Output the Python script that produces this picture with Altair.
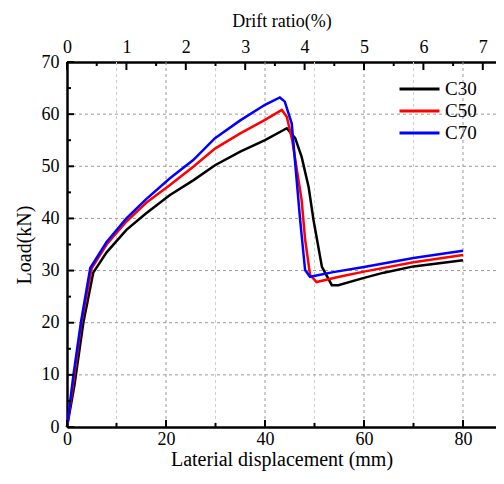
import altair as alt
import pandas as pd

# ---------------- data ----------------
series = ["C30", "C50", "C70"]
colors = ["#000000", "#ff0000", "#0000ff"]

c30_x = [0, 1.5, 3.3, 5.3, 8, 12, 16, 20.8, 25.5, 29.9, 35, 40, 44.4, 46.1, 47.4, 48.8, 49.8, 51.5, 53.5, 54.8, 60, 64, 70, 80]
c30_y = [0, 8, 20, 29.6, 33.5, 37.8, 41.0, 44.5, 47.3, 50.2, 52.8, 55.0, 57.3, 55.4, 51.8, 46.1, 39.7, 30.7, 27.2, 27.2, 28.6, 29.6, 30.8, 32.0]

c50_x = [0, 1.2, 2.9, 5.0, 8, 12, 16, 20.8, 25.5, 29.9, 35, 40, 43.4, 44.4, 45.5, 47.4, 48.1, 49.1, 50.4, 55, 60, 70, 80]
c50_y = [0, 8, 20, 30.5, 35.0, 39.4, 43.0, 46.4, 49.9, 53.4, 56.3, 58.9, 60.8, 59.5, 55.0, 43.5, 36.0, 29.2, 27.8, 28.8, 29.8, 31.6, 33.0]

c70_x = [0, 1.3, 2.8, 4.7, 8, 12, 16, 20.8, 25.5, 29.9, 35, 40, 43.0, 44.0, 45.4, 47.1, 48.1, 49.1, 53.8, 60, 70, 80]
c70_y = [0, 10, 20, 30.5, 35.5, 40.0, 43.7, 47.7, 51.2, 55.4, 58.8, 61.8, 63.2, 62.4, 58.2, 39.7, 30.1, 28.8, 29.7, 30.7, 32.4, 33.8]

x_major = [0, 20, 40, 60, 80]
x_minor = [10, 30, 50, 70]
y_major = [0, 10, 20, 30, 40, 50, 60, 70]
y_minor = [5, 15, 25, 35, 45, 55, 65]
y_grid = [10, 20, 30, 40, 50, 60]
drift_major = [0, 1, 2, 3, 4, 5, 6, 7]
drift_minor = [0.5, 1.5, 2.5, 3.5, 4.5, 5.5, 6.5]

# ---------------- layout ----------------
PX_PER_MM = 4.95
W, H = 429, 365
XMAX = W / PX_PER_MM
DMAX = XMAX / 12.0
FONT = "Liberation Serif"

rows = []
for name, xs_, ys_ in zip(series, [c30_x, c50_x, c70_x], [c30_y, c50_y, c70_y]):
    for i, (a, b) in enumerate(zip(xs_, ys_)):
        rows.append({"s": name, "x": a, "y": b, "i": i})
df = pd.DataFrame(rows)

xs = alt.Scale(domain=[0, XMAX], nice=False, zero=False)
ys = alt.Scale(domain=[0, 70], nice=False, zero=False)
ds = alt.Scale(domain=[0, DMAX], nice=False, zero=False)

def ax(**kw):
    base = dict(grid=False, ticks=False, domain=True, domainWidth=2.5, domainColor="black",
                labelFont=FONT, titleFont=FONT, labelColor="black", titleColor="black",
                titleFontWeight="normal", labelFontSize=18, labelOverlap=False, labelFlush=False)
    base.update(kw)
    return alt.Axis(**base)

# identical axis definitions reused on every layer that shares the scale
X_AX = ax(orient="bottom", values=x_major, title="Laterial displacement (mm)",
          labelPadding=3, titlePadding=1, titleFontSize=20)
Y_AX = ax(orient="left", values=y_major, title="Load(kN)",
          labelPadding=8, titlePadding=7, titleFontSize=20)
T_AX = ax(orient="top", values=drift_major, title="Drift ratio(%)",
          labelPadding=6, titlePadding=8, titleFontSize=18)

def X(f):
    return alt.X(f, scale=xs, axis=X_AX, title="Laterial displacement (mm)")

def Y(f):
    return alt.Y(f, scale=ys, axis=Y_AX, title="Load(kN)")

def D(f):
    return alt.X(f, scale=ds, axis=T_AX, title="Drift ratio(%)")

grid_major = alt.Chart(pd.DataFrame({"x": x_major[1:]})).mark_rule(
    color="#9a9a9a", strokeDash=[3, 3], strokeWidth=1
).encode(x=X("x:Q"))

grid_minor = alt.Chart(pd.DataFrame({"x": x_minor})).mark_rule(
    color="#cfcfcf", strokeDash=[3, 3], strokeWidth=1
).encode(x=X("x:Q"))

grid_h = alt.Chart(pd.DataFrame({"y": y_grid})).mark_rule(
    color="#9a9a9a", strokeDash=[3, 3], strokeWidth=1
).encode(y=Y("y:Q"))

lines = alt.Chart(df).mark_line(strokeWidth=2.5).encode(
    x=X("x:Q"),
    y=Y("y:Q"),
    color=alt.Color("s:N", scale=alt.Scale(domain=series, range=colors), legend=alt.Legend(
        orient="none", legendX=331, legendY=16, title=None, symbolType="stroke",
        symbolSize=1600, symbolStrokeWidth=3, labelFont=FONT, labelFontSize=19,
        labelColor="black", clipHeight=22, rowPadding=0, labelOffset=4, padding=0)),
    order=alt.Order("i:Q"),
)

bt_major = alt.Chart(pd.DataFrame({"x": x_major})).mark_rule(color="black", strokeWidth=2).encode(
    x=X("x:Q"), y=alt.value(H), y2=alt.value(H - 7))
bt_minor = alt.Chart(pd.DataFrame({"x": x_minor})).mark_rule(color="black", strokeWidth=2).encode(
    x=X("x:Q"), y=alt.value(H), y2=alt.value(H - 4))
lt_major = alt.Chart(pd.DataFrame({"y": y_major})).mark_rule(color="black", strokeWidth=2).encode(
    y=Y("y:Q"), x=alt.value(0), x2=alt.value(7))
lt_minor = alt.Chart(pd.DataFrame({"y": y_minor})).mark_rule(color="black", strokeWidth=2).encode(
    y=Y("y:Q"), x=alt.value(0), x2=alt.value(4))

inner = alt.layer(grid_minor, grid_major, grid_h, lines, bt_major, bt_minor, lt_major, lt_minor)

tt_major = alt.Chart(pd.DataFrame({"d": drift_major})).mark_rule(color="black", strokeWidth=2).encode(
    x=D("d:Q"), y=alt.value(0), y2=alt.value(8))
tt_minor = alt.Chart(pd.DataFrame({"d": drift_minor})).mark_rule(color="black", strokeWidth=2).encode(
    x=D("d:Q"), y=alt.value(0), y2=alt.value(4))

top = alt.layer(tt_major, tt_minor)

chart = alt.layer(inner, top).resolve_scale(x="independent").properties(
    width=W, height=H,
    padding={"left": 59, "top": 54, "right": 0, "bottom": 44},
    autosize=alt.AutoSizeParams(type="none"),
).configure_view(strokeWidth=0)

chart.save("out.html", embed_options={"renderer": "svg", "actions": False})
